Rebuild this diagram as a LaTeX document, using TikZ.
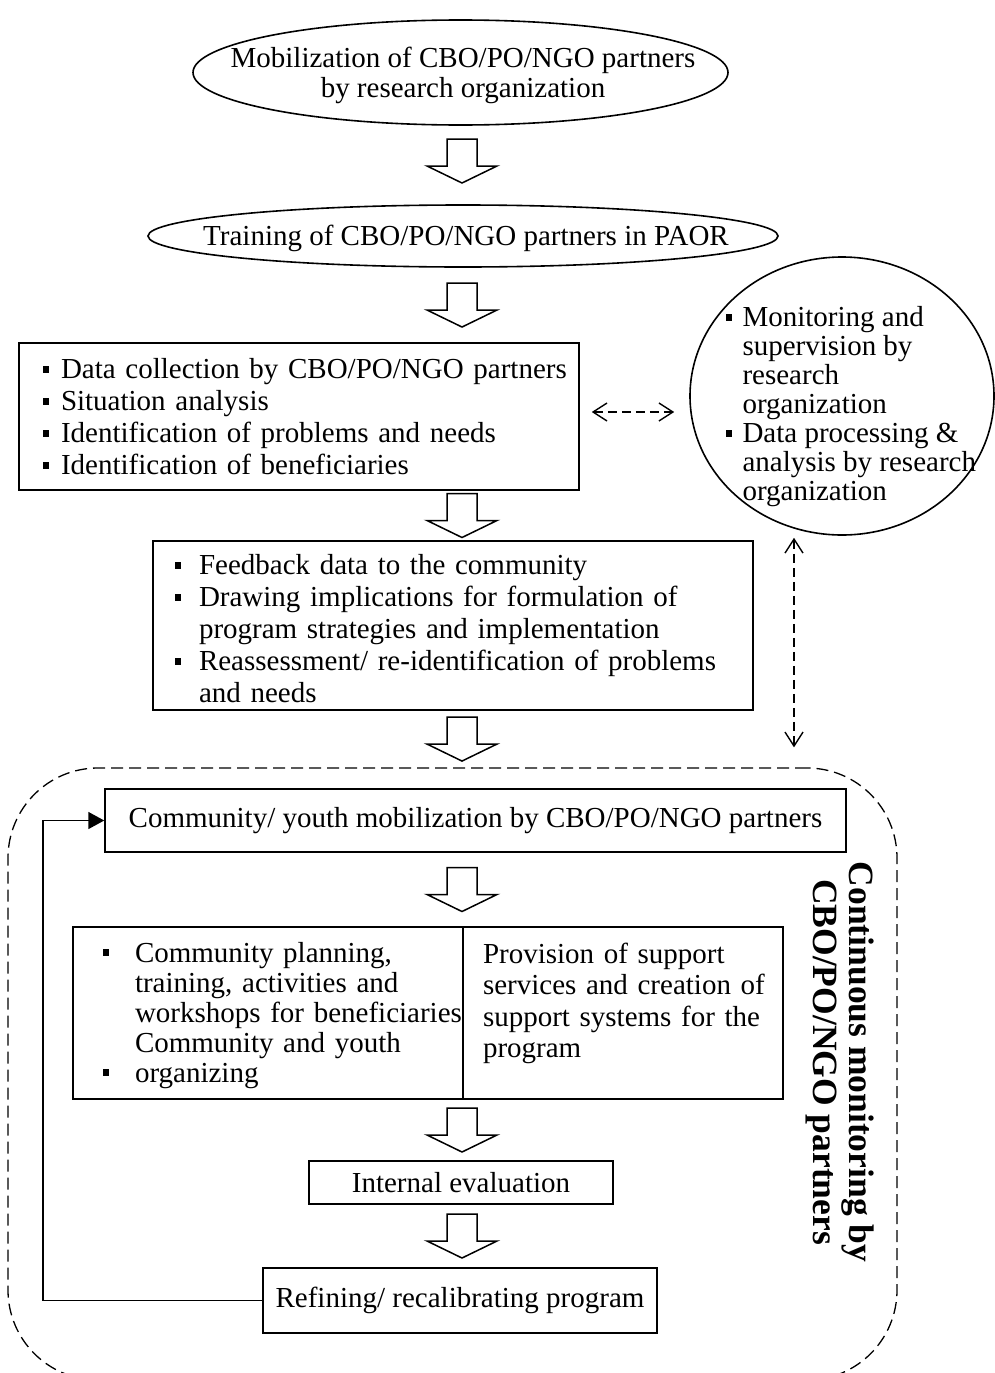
\documentclass[tikz,border=0pt]{standalone}
\usepackage{fontspec}
\setmainfont{Liberation Serif}
\usetikzlibrary{shapes.geometric,arrows.meta,calc}

% small square bullet
\newcommand{\sqb}{\raisebox{6pt}{\rule{6pt}{7pt}}}
% lower a block of text without changing its size
\newcommand{\lowered}[2]{\raisebox{-#1}[\height][\depth]{#2}}

\tikzset{
  every node/.style={font=\fontsize{29}{32}\selectfont},
  oval/.style={ellipse, draw, line width=1.6pt, inner sep=0pt},
  stepbox/.style={draw, line width=1.5pt, inner sep=0pt},
  link/.style={line width=1.4pt, dash pattern=on 9pt off 5pt,
    {Straight Barb[length=14pt,width=18pt]}-{Straight Barb[length=14pt,width=18pt]}},
  frameline/.style={draw, line width=1.3pt, dash pattern=on 12pt off 6pt,
    rounded corners=90pt, inner sep=0pt},
  loopback/.style={line width=1.5pt, -{Triangle[length=16pt,width=17pt]}},
  pics/blockarrow/.style={code={
    \draw[line width=1.5pt, fill=white, line join=miter]
      (-15,-22) -- (15,-22) -- (15,5) -- (35,5) -- (0,22) -- (-35,5) -- (-15,5) -- cycle;}}
}

% hollow block arrow half way between two nodes, on the central axis
\newcommand{\hollow}[3][0]{%
  \path ($(#2.south)!0.5!(#3.north)$) coordinate (#2-#3);
  \pic[yshift=#1pt] at (ax |- #2-#3) {blockarrow};}

\begin{document}
\begin{tikzpicture}[x=1pt,y=-1pt]
\clip (0,0) rectangle (995,1373);
\coordinate (ax) at (462,0);
\coordinate (vx) at (794,0);
\coordinate (fbx) at (43,0);

% top ovals
\node[oval, minimum width=535pt, minimum height=105pt] (mob) at (460.5,72.5) {};
\node[align=center, font=\fontsize{29}{30}\selectfont] (mobtxt) at (463,75.5) {Mobilization of CBO/PO/NGO partners\\by research organization};
\node[oval, minimum width=630pt, minimum height=62pt] (train) at (463,236) {};
\node (traintxt) at (466,238.5) {Training of CBO/PO/NGO partners in PAOR};

% data collection
\node[stepbox, minimum width=560pt, minimum height=147pt, text width=512pt,
      inner xsep=24pt, align=left] (collect) at (299,416.5)
 {\lowered{4pt}{\begin{tabular}{@{}l@{\hspace{12pt}}l@{}}
  \sqb & Data collection by CBO/PO/NGO partners\\
  \sqb & Situation analysis\\
  \sqb & Identification of problems and needs\\
  \sqb & Identification of beneficiaries
  \end{tabular}}};

% monitoring by research organization
\node[oval, minimum width=304pt, minimum height=278pt] (mon) at (842,396) {};
\node[anchor=west, font=\fontsize{29}{29}\selectfont] (montxt) at (722,408)
 {\begin{tabular}{@{}l@{\hspace{11pt}}l@{}}
  \sqb & Monitoring and\\
      & supervision by\\
      & research\\
      & organization\\
  \sqb & Data processing \&\\
      & analysis by research\\
      & organization
  \end{tabular}};

% feedback box
\node[stepbox, minimum width=600pt, minimum height=169pt, text width=556pt,
      inner xsep=22pt, align=left] (feedback) at (453,625.5)
 {\lowered{7pt}{\begin{tabular}{@{}l@{\hspace{18pt}}l@{}}
  \sqb & Feedback data to the community\\
  \sqb & Drawing implications for formulation of\\
       & program strategies and implementation\\
  \sqb & Reassessment/ re-identification of problems\\
       & and needs
  \end{tabular}}};

% dashed frame of the partner cycle
\node[frameline, minimum width=889pt, minimum height=612pt] (frame) at (452.5,1074) {};

\node[stepbox, minimum width=741pt, minimum height=63pt] (mobil) at (475.5,820.5)
 {Community/ youth mobilization by CBO/PO/NGO partners};

\node[stepbox, minimum width=390pt, minimum height=172pt, text width=330pt,
      inner xsep=30pt, align=left, font=\fontsize{29}{30}\selectfont] (plan) at (268,1013)
 {\lowered{3pt}{\begin{tabular}{@{}l@{\hspace{26pt}}l@{}}
  \sqb & Community planning,\\
       & training, activities and\\
       & workshops for beneficiaries\\
       & Community and youth\\
  \sqb & organizing
  \end{tabular}}};
\node[stepbox, minimum width=320pt, minimum height=172pt, text width=280pt,
      inner xsep=20pt, align=left, font=\fontsize{29}{31.5}\selectfont] (support) at (623,1013)
 {\lowered{3pt}{\begin{tabular}{@{}l@{}}
  Provision of support\\
  services and creation of\\
  support systems for the\\
  program\\[24pt]
  \end{tabular}}};

\node[stepbox, minimum width=304pt, minimum height=43pt] (evalbox) at (461,1182.5)
 {Internal evaluation};
\node[stepbox, minimum width=394pt, minimum height=65pt] (refine) at (460,1300.5)
 {Refining/ recalibrating program};

\node[rotate=-90, align=center, font=\bfseries\fontsize{35.5}{36}\selectfont] (cmon) at (840,1062)
 {Continuous monitoring by\\CBO/PO/NGO partners};

% block arrows
\hollow[4]{mob}{train}
\hollow{train}{collect}
\hollow{collect}{feedback}
\hollow{feedback}{frame}
\hollow{mobil}{plan}
\hollow{plan}{evalbox}
\hollow{evalbox}{refine}

% dashed two-way links to the monitoring oval
\coordinate (la) at ([yshift=4.5pt]collect.east);
\draw[link, shorten <=12pt, shorten >=15pt] (la) -- (la -| mon.west);
\coordinate (vt) at ([yshift=-2pt]mon.south);
\coordinate (vb) at ([yshift=20pt]frame.north);
\draw[link] (vt -| vx) -- (vb -| vx);

% loop back from refining to mobilization
\draw[loopback] (refine.west) -- (refine.west -| fbx) |- (mobil.west);
\end{tikzpicture}
\end{document}
